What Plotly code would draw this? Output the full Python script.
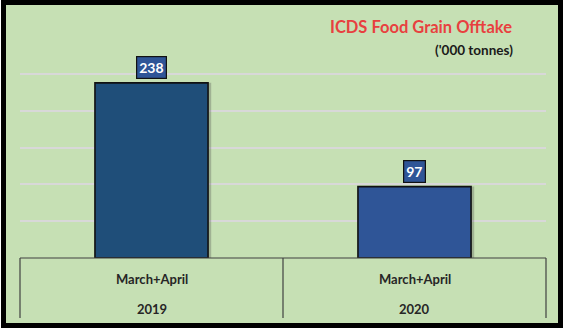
import plotly.graph_objects as go

# ICDS food grain offtake, March+April, in '000 tonnes
periods = ["March+April", "March+April"]
years = ["2019", "2020"]
offtake = [238, 97]
bar_colors = ["#1F4E79", "#2F5597"]
grid_values = [50, 100, 150, 200, 250]

W, H = 567, 333
# plot area in pixels
L, R, T, B = 20, 546, 20, 258


def px(x):
    return (x - L) / (R - L)


def py(y):
    return (B - y) / (B - T)


xpos = list(range(len(offtake)))

fig = go.Figure()

# soft drop shadow behind each bar
fig.add_trace(go.Bar(
    x=xpos, y=offtake, width=0.43, offset=-0.215 + 0.012,
    marker=dict(color="rgba(60,60,60,0.28)", line=dict(width=0)),
    hoverinfo="skip", showlegend=False,
))
fig.add_trace(go.Bar(
    x=xpos, y=offtake, width=0.43, offset=-0.215,
    marker=dict(color=bar_colors, line=dict(color="#111111", width=1.6)),
    showlegend=False,
))

shapes = []
# green chart frame with thick black border
shapes.append(dict(type="rect", xref="paper", yref="paper",
                   x0=px(4.5), x1=px(562.5), y0=py(4.5), y1=py(328),
                   fillcolor="rgba(80,80,80,0.35)", line=dict(width=0), layer="below"))
shapes.append(dict(type="rect", xref="paper", yref="paper",
                   x0=px(3.5), x1=px(560.5), y0=py(2.5), y1=py(325.5),
                   fillcolor="#C6E0B4", line=dict(color="#000000", width=5), layer="below"))
# category axis box
axis_color = "#404040"
shapes.append(dict(type="line", xref="paper", yref="paper",
                   x0=0, x1=1, y0=0, y1=0, line=dict(color=axis_color, width=1.2)))
for xv in [0, 0.5, 1]:
    shapes.append(dict(type="line", xref="paper", yref="paper",
                       x0=xv, x1=xv, y0=0, y1=py(318), line=dict(color=axis_color, width=1.2)))

annotations = []
font_family = "Lato, 'Open Sans', sans-serif"
for i, (p, yr, v) in enumerate(zip(periods, years, offtake)):
    annotations.append(dict(x=i, y=v, xref="x", yref="y", text=f"<b>{v}</b>",
                            showarrow=False, yanchor="bottom", yshift=4,
                            font=dict(family=font_family, size=14, color="white"),
                            bgcolor="#2F5597", bordercolor="#111111", borderwidth=1.2,
                            borderpad=2))
    annotations.append(dict(x=i, y=py(279), xref="x", yref="paper", text=f"<b>{p}</b>",
                            showarrow=False, yanchor="middle",
                            font=dict(family=font_family, size=13, color="#262626")))
    annotations.append(dict(x=i, y=py(309), xref="x", yref="paper", text=f"<b>{yr}</b>",
                            showarrow=False, yanchor="middle",
                            font=dict(family=font_family, size=13, color="#262626")))

annotations.append(dict(x=px(514), y=py(27), xref="paper", yref="paper",
                        text="<b>ICDS Food Grain Offtake</b>", showarrow=False,
                        xanchor="right", yanchor="middle",
                        font=dict(family=font_family, size=16.5, color="#E8403F")))
annotations.append(dict(x=px(515), y=py(50), xref="paper", yref="paper",
                        text="<b>('000 tonnes)</b>", showarrow=False,
                        xanchor="right", yanchor="middle",
                        font=dict(family=font_family, size=13.5, color="#1A1A1A")))

fig.update_layout(
    width=W, height=H,
    margin=dict(l=L, r=W - R, t=T, b=H - B, pad=0),
    paper_bgcolor="white", plot_bgcolor="rgba(0,0,0,0)",
    barmode="overlay",
    shapes=shapes, annotations=annotations,
    xaxis=dict(range=[-0.5, 1.5], showticklabels=False, showgrid=False,
               zeroline=False, showline=False, fixedrange=True),
    yaxis=dict(range=[0, (B - T) / 0.736], tickvals=grid_values, showticklabels=False,
               showgrid=True, gridcolor="#D8D8D8", gridwidth=1.6,
               zeroline=False, showline=False, fixedrange=True),
)

fig.write_html("out.html")
